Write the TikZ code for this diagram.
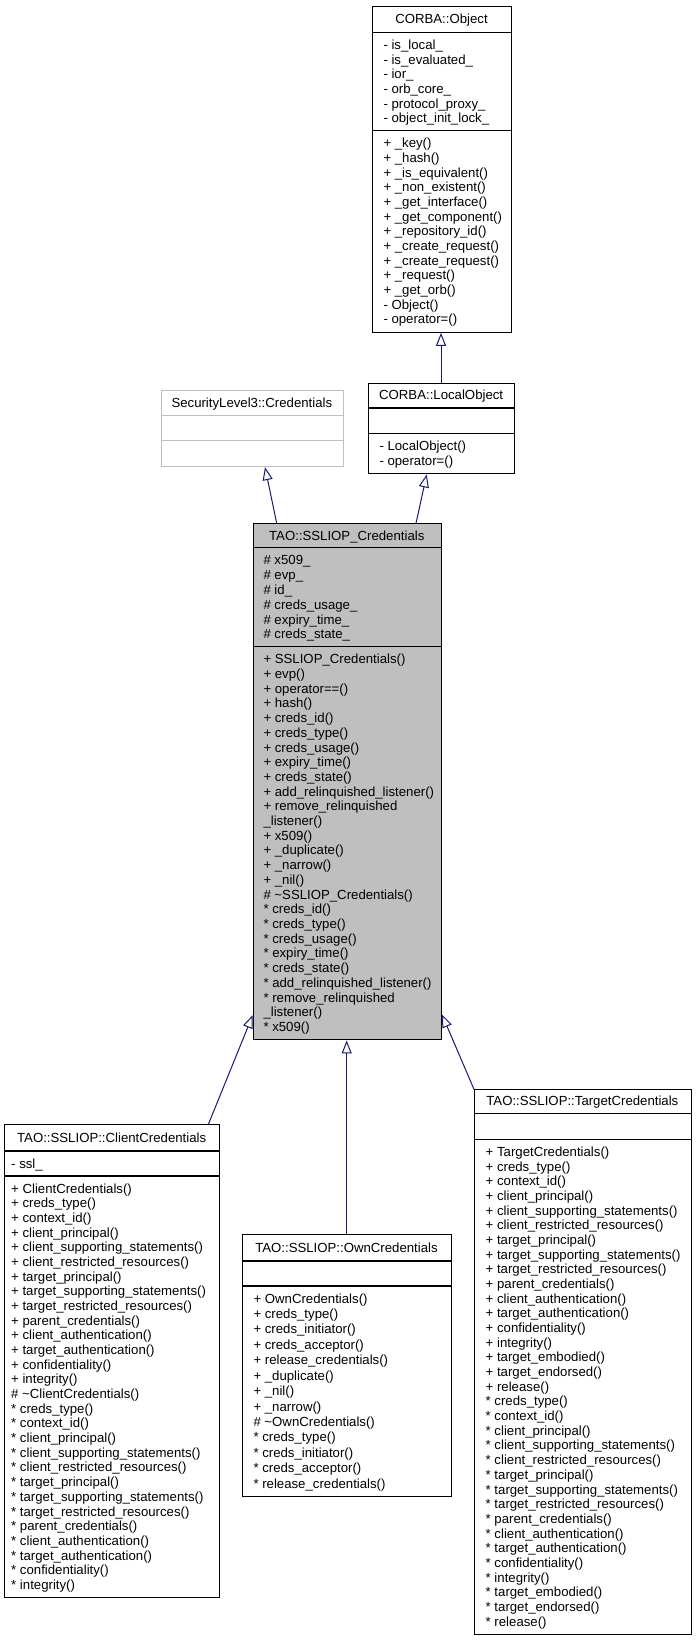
\documentclass[tikz,border=0pt]{standalone}
\usepackage{fontspec}
\setmainfont{Liberation Sans}
\usetikzlibrary{arrows.meta}
\definecolor{navy}{HTML}{191970}
\definecolor{boxgray}{HTML}{BFBFBF}
\definecolor{lightborder}{HTML}{BFBFBF}
\tikzset{
  umlfont/.style={font=\fontsize{13.2}{14}\selectfont},
  blackbox/.style={draw=black, line width=1.15pt},
  greybox/.style={draw=lightborder, line width=1.15pt},
  filledbox/.style={draw=black, fill=boxgray, line width=1.15pt},
  mem/.style={umlfont, anchor=base west, inner sep=0pt},
  ttl/.style={umlfont, anchor=base, inner sep=0pt},
  inh/.style={draw=navy, line width=1pt, -{Triangle[open, length=13pt, width=10pt]}},
}
% #1 name, #2 left, #3 top, #4 right, #5 bottom, #6 sep1, #7 sep2, #8 style, #9 title
\newcommand\umlbox[9]{%
  \node[#8, inner sep=0pt, minimum width={#4-#2}, minimum height={#5-#3}, anchor=north west] (#1) at (#2,#3) {};
  \draw[#8] (#2,#6) -- (#4,#6);
  \draw[#8] (#2,#7) -- (#4,#7);
  \node[ttl] (#1-title) at ({(#2+#4)/2},{(#3+#6)/2+4.6}) {#9};
}
% #1 name, #2 x, #3 top, #4 bottom, #5 n, #6 list
\newcommand\memlines[6]{%
  \foreach \txt [count=\k from 0] in {#6} {
    \pgfmathsetmacro\yy{#3+12.5+\k*(#4-#3-25)/max(#5-1,1)}
    \node[mem] (#1-\k) at (#2,\yy+4.6) {\txt};
  }%
}
\begin{document}
\begin{tikzpicture}[x=1pt,y=-1pt]
\useasboundingbox[fill=white] (0,0) rectangle (696,1640);

% CORBA::Object
\umlbox{obj}{372.3}{6}{510.7}{331.7}{32.3}{130.7}{blackbox}{CORBA::Object}
\memlines{obja}{383.3}{32.3}{130.7}{6}{- is\_local\_, - is\_evaluated\_, - ior\_, - orb\_core\_, - protocol\_proxy\_, - object\_init\_lock\_}
\memlines{objm}{383.3}{130.7}{331.7}{13}{+ \_key(), + \_hash(), + \_is\_equivalent(), + \_non\_existent(), + \_get\_interface(), + \_get\_component(), + \_repository\_id(), + \_create\_request(), + \_create\_request(), + \_request(), + \_get\_orb(), - Object(), - operator=()}

% SecurityLevel3::Credentials
\umlbox{sec}{160.7}{390}{343}{466}{415.3}{440.7}{greybox}{SecurityLevel3::Credentials}

% CORBA::LocalObject
\umlbox{loc}{368}{382.5}{514.3}{473.3}{408}{433.3}{blackbox}{CORBA::LocalObject}
\memlines{locm}{379.3}{433.3}{473.3}{2}{- LocalObject(), - operator=()}

% TAO::SSLIOP_Credentials
\umlbox{ssl}{252.7}{523.3}{440.8}{1039.3}{547.7}{646.7}{filledbox}{TAO::SSLIOP\_Credentials}
\memlines{ssla}{263.3}{547.7}{646.7}{6}{\# x509\_, \# evp\_, \# id\_, \# creds\_usage\_, \# expiry\_time\_, \# creds\_state\_}
\memlines{sslm}{263.3}{646.7}{1039.3}{26}{+ SSLIOP\_Credentials(), + evp(), + operator==(), + hash(), + creds\_id(), + creds\_type(), + creds\_usage(), + expiry\_time(), + creds\_state(), + add\_relinquished\_listener(), + remove\_relinquished, \_listener(), + x509(), + \_duplicate(), + \_narrow(), + \_nil(), \# \textasciitilde SSLIOP\_Credentials(), * creds\_id(), * creds\_type(), * creds\_usage(), * expiry\_time(), * creds\_state(), * add\_relinquished\_listener(), * remove\_relinquished, \_listener(), * x509()}

% TAO::SSLIOP::ClientCredentials
\umlbox{cli}{4}{1124}{219.3}{1597.3}{1151}{1176}{blackbox}{TAO::SSLIOP::ClientCredentials}
\memlines{clia}{11}{1151}{1176}{1}{- ssl\_}
\memlines{clim}{11}{1176}{1597.3}{28}{+ ClientCredentials(), + creds\_type(), + context\_id(), + client\_principal(), + client\_supporting\_statements(), + client\_restricted\_resources(), + target\_principal(), + target\_supporting\_statements(), + target\_restricted\_resources(), + parent\_credentials(), + client\_authentication(), + target\_authentication(), + confidentiality(), + integrity(), \# \textasciitilde ClientCredentials(), * creds\_type(), * context\_id(), * client\_principal(), * client\_supporting\_statements(), * client\_restricted\_resources(), * target\_principal(), * target\_supporting\_statements(), * target\_restricted\_resources(), * parent\_credentials(), * client\_authentication(), * target\_authentication(), * confidentiality(), * integrity()}

% TAO::SSLIOP::OwnCredentials
\umlbox{own}{242.3}{1234}{450.7}{1496}{1261}{1286}{blackbox}{TAO::SSLIOP::OwnCredentials}
\memlines{ownm}{253.3}{1286}{1496}{13}{+ OwnCredentials(), + creds\_type(), + creds\_initiator(), + creds\_acceptor(), + release\_credentials(), + \_duplicate(), + \_nil(), + \_narrow(), \# \textasciitilde OwnCredentials(), * creds\_type(), * creds\_initiator(), * creds\_acceptor(), * release\_credentials()}

% TAO::SSLIOP::TargetCredentials
\umlbox{tgt}{474}{1089.3}{690.7}{1634}{1113.3}{1139.3}{blackbox}{TAO::SSLIOP::TargetCredentials}
\memlines{tgtm}{485.5}{1139.3}{1634}{33}{+ TargetCredentials(), + creds\_type(), + context\_id(), + client\_principal(), + client\_supporting\_statements(), + client\_restricted\_resources(), + target\_principal(), + target\_supporting\_statements(), + target\_restricted\_resources(), + parent\_credentials(), + client\_authentication(), + target\_authentication(), + confidentiality(), + integrity(), + target\_embodied(), + target\_endorsed(), + release(), * creds\_type(), * context\_id(), * client\_principal(), * client\_supporting\_statements(), * client\_restricted\_resources(), * target\_principal(), * target\_supporting\_statements(), * target\_restricted\_resources(), * parent\_credentials(), * client\_authentication(), * target\_authentication(), * confidentiality(), * integrity(), * target\_embodied(), * target\_endorsed(), * release()}

% inheritance connectors
\draw[inh] ([xshift=73pt]loc.north west) -- ([xshift=68.7pt]obj.south west);
\draw[inh] ([xshift=24pt]ssl.north west) -- ([xshift=104.3pt]sec.south west);
\draw[inh] ([xshift=163.3pt]ssl.north west) -- ([xshift=58.7pt]loc.south west);
\draw[inh] ([xshift=204.5pt]cli.north west) -- ([yshift=25.3pt]ssl.south west);
\draw[inh] ([xshift=104.4pt]own.north west) -- ([xshift=94pt]ssl.south west);
\draw[inh] (tgt.north west) -- ([yshift=26pt]ssl.south east);
\end{tikzpicture}
\end{document}
